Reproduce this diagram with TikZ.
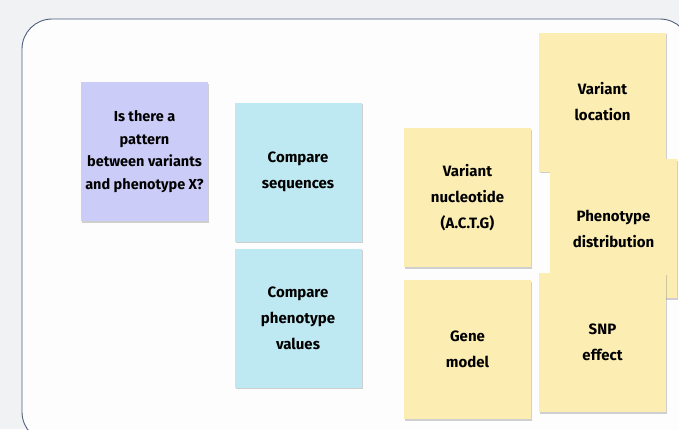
\documentclass[tikz,border=0pt]{standalone}
\usepackage{fontspec}
\setmainfont{Fira Sans}
\usetikzlibrary{shadows}
\definecolor{pagegray}{HTML}{F1F2F3}
\definecolor{boardwhite}{HTML}{FDFDFE}
\definecolor{boardline}{HTML}{4F5F7E}
\definecolor{notepurple}{HTML}{CCCCF8}
\definecolor{notecyan}{HTML}{BFE9F2}
\definecolor{noteyellow}{HTML}{FCEDB3}
\tikzset{
  note/.style={minimum width=127pt,minimum height=139pt,inner sep=0pt,align=center,
    font=\fontsize{15}{26}\selectfont\bfseries,
    drop shadow={shadow xshift=1.2pt,shadow yshift=-1.5pt,opacity=0.3,fill=black!60}},
  question/.style={note,fill=notepurple,font=\fontsize{14.5}{22.5}\selectfont\bfseries},
  compare/.style={note,fill=notecyan},
  datum/.style={note,fill=noteyellow}
}
\begin{document}
\begin{tikzpicture}[x=1pt,y=-1pt]
\useasboundingbox (0,0) rectangle (679,429);
\clip (0,0) rectangle (679,429);
\fill[pagegray] (0,0) rectangle (679,429);
\draw[boardline,fill=boardwhite,line width=0.9pt,rounded corners=30pt] (22,19) rectangle (690,442);
\node[question] (question) at (144.5,151.5) {Is there a\\pattern\\between variants\\and phenotype X?};
\node[compare] (sequences) at (298,172) {Compare\\sequences};
\node[compare] (values) at (298,318) {Compare\\phenotype\\values};
\node[datum] (nucleotide) at (467.5,197.5) {Variant\\nucleotide\\(A.C.T.G)};
\node[datum] (genemodel) at (467.5,349.5) {Gene\\model};
\node[datum] (location) at (602.5,102) {Variant\\location};
\node[datum] (distribution) at (613.5,228.5) {Phenotype\\distribution};
\node[datum] (snp) at (602.5,342.5) {SNP\\effect};
\end{tikzpicture}
\end{document}
